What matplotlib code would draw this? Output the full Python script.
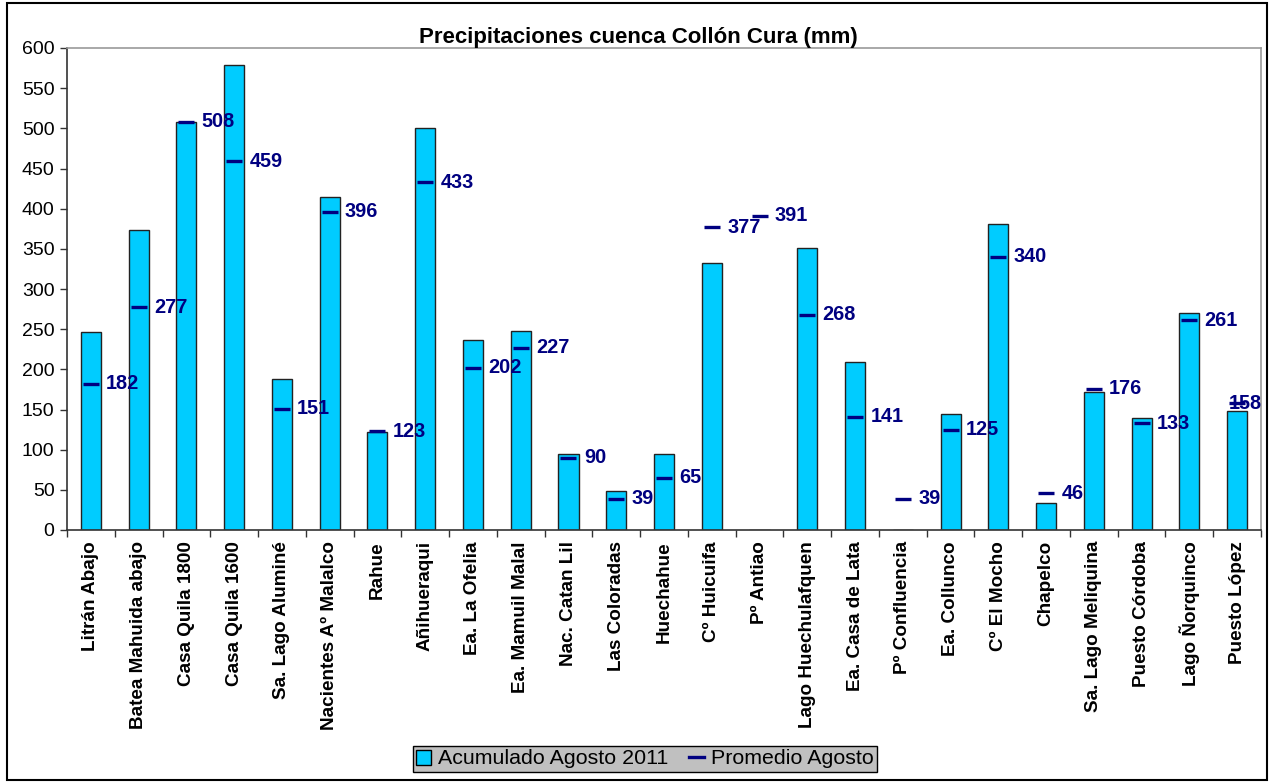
import matplotlib
matplotlib.use("Agg")
import matplotlib.pyplot as plt
import numpy as np
from matplotlib.patches import Rectangle
from matplotlib.lines import Line2D
from matplotlib.ticker import FixedLocator, NullFormatter

plt.rcParams['font.family'] = ['Liberation Sans', 'DejaVu Sans']

stations = ["Litrán Abajo", "Batea Mahuida abajo", "Casa Quila 1800", "Casa Quila 1600",
            "Sa. Lago Aluminé", "Nacientes Aº Malalco", "Rahue", "Añihueraqui",
            "Ea. La Ofelia", "Ea. Mamuil Malal", "Nac. Catan Lil", "Las Coloradas",
            "Huechahue", "Cº Huicuifa", "Pº Antiao", "Lago Huechulafquen",
            "Ea. Casa de Lata", "Pº Confluencia", "Ea. Collunco", "Cº El Mocho",
            "Chapelco", "Sa. Lago Meliquina", "Puesto Córdoba", "Lago Ñorquinco",
            "Puesto López"]
acumulado_2011 = [247, 374, 508, 579, 188, 414, 122, 500, 237, 248, 95, 48, 95, 332,
                  0, 351, 209, 0, 144, 381, 33, 172, 139, 270, 148]
promedio_agosto = [182, 277, 508, 459, 151, 396, 123, 433, 202, 227, 90, 39, 65, 377,
                   391, 268, 141, 39, 125, 340, 46, 176, 133, 261, 158]

W, H = 1269, 783
fig = plt.figure(figsize=(W / 100, H / 100), dpi=100)
fig.patch.set_facecolor('white')

# outer chart border
fig.patches.append(Rectangle((7 / W, 3 / H), (1267 - 7) / W, (780 - 3) / H,
                             transform=fig.transFigure, fill=False,
                             edgecolor='black', linewidth=1.5))

left, right, top, bottom = 67, 1261, 48, 530
ax = fig.add_axes([left / W, 1 - bottom / H, (right - left) / W, (bottom - top) / H])

x = np.arange(len(stations))
ax.bar(x, acumulado_2011, width=0.42, color='#00CCFF', edgecolor='#222222',
       linewidth=1.0, zorder=2)
ax.plot(x, promedio_agosto, linestyle='none', marker='_', markersize=11,
        markeredgewidth=2.4, color='#000080', zorder=3)
n = len(stations)
for xi, v in zip(x, promedio_agosto):
    # last label is pulled inside the plot area (as in the original)
    dx = -6 if xi == n - 1 else 11
    ax.annotate(f"{v}", (xi, v), xytext=(dx, 0), textcoords='offset points',
                ha='left', va='center', fontsize=14.3, fontweight='bold',
                color='#000080', zorder=4, annotation_clip=False)

ax.set_xlim(-0.5, n - 0.5)
ax.set_ylim(0, 600)
ax.set_yticks(np.arange(0, 601, 50))
ax.tick_params(axis='y', direction='out', length=5, width=1, labelsize=14, pad=4,
               color='#333333')
ax.set_xticks(x)
ax.set_xticklabels(stations, rotation=90, fontsize=13.6, fontweight='bold',
                   va='top', ha='center')
ax.tick_params(axis='x', which='major', length=0, pad=8)
ax.xaxis.set_minor_locator(FixedLocator(np.arange(-0.5, n, 1.0)))
ax.xaxis.set_minor_formatter(NullFormatter())
ax.tick_params(axis='x', which='minor', direction='out', length=5, width=1,
               color='#333333')

for s in ['top', 'right']:
    ax.spines[s].set_color('#999999')
    ax.spines[s].set_linewidth(1.2)
for s in ['left', 'bottom']:
    ax.spines[s].set_color('#333333')
    ax.spines[s].set_linewidth(1.2)

fig.text(0.503, 1 - 37 / H, "Precipitaciones cuenca Collón Cura (mm)", ha='center',
         va='center', fontsize=16, fontweight='bold')

handles = [Rectangle((0, 0), 1, 1, facecolor='#00CCFF', edgecolor='black', linewidth=1),
           Line2D([0], [0], color='#000080', linewidth=2.4)]
leg = fig.legend(handles, ["Acumulado Agosto 2011", "Promedio Agosto"],
                 loc='center', bbox_to_anchor=(645 / W, 1 - 759 / H), ncol=2,
                 fontsize=15.4, frameon=True, fancybox=False, facecolor='#C0C0C0',
                 edgecolor='black', framealpha=1, handlelength=0.7, handleheight=0.7,
                 handletextpad=0.3, columnspacing=1.0, borderpad=0.15,
                 borderaxespad=0)
leg.get_frame().set_linewidth(1.0)

fig.savefig("out.png", dpi=100)
